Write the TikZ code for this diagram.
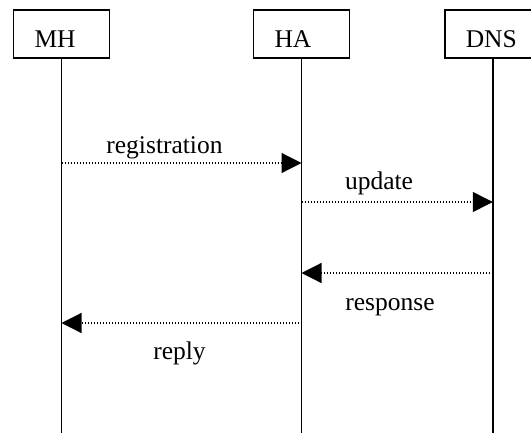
\documentclass[tikz,border=0pt]{standalone}
\usepackage{fontspec}
\setmainfont{Liberation Serif}
\usetikzlibrary{arrows.meta}
\begin{document}
\begin{tikzpicture}[x=1pt,y=-1pt,
  actor/.style={draw,line width=1.6pt,minimum width=96pt,text width=54pt,inner xsep=21pt,align=left,
    inner ysep=0pt,text height=37.4pt,text depth=10.6pt,anchor=north west,font=\fontsize{25.5}{30}\selectfont},
  life/.style={line width=1.8pt},
  msg/.style={line width=1.2pt,dash pattern=on 1pt off 2pt,-{Triangle[length=20pt,width=20pt]}},
  lbl/.style={anchor=base,inner sep=0pt,font=\fontsize{25.5}{30}\selectfont}]
\useasboundingbox (0,0) rectangle (531,432);
\begin{scope}
\clip (0,0) rectangle (531,432);
\node[actor] (MH) at (12.7,9.3) {MH};
\node[actor] (HA) at (252.7,9.3) {HA};
\node[actor] (DNS) at (444,9.3) {DNS};
\coordinate (MHe) at (MH.south |- 0,433);
\coordinate (HAe) at (HA.south |- 0,433);
\coordinate (DNSe) at (DNS.south |- 0,433);
\draw[life] (MH.south) -- (MHe);
\draw[life] (HA.south) -- (HAe);
\draw[life] (DNS.south) -- (DNSe);
\end{scope}
\draw[msg] (MH.south |- 0,163) -- (HA.south |- 0,163);
\node[lbl] (l1) at (164.5,153) {registration};
\draw[msg] (HA.south |- 0,202) -- (DNS.south |- 0,202);
\node[lbl] (l2) at (379,189) {update};
\draw[msg] (DNS.south |- 0,273) -- (HA.south |- 0,273);
\node[lbl] (l3) at (390,310) {response};
\draw[msg] (HA.south |- 0,323) -- (MH.south |- 0,323);
\node[lbl] (l4) at (179.5,359) {reply};
\end{tikzpicture}
\end{document}
